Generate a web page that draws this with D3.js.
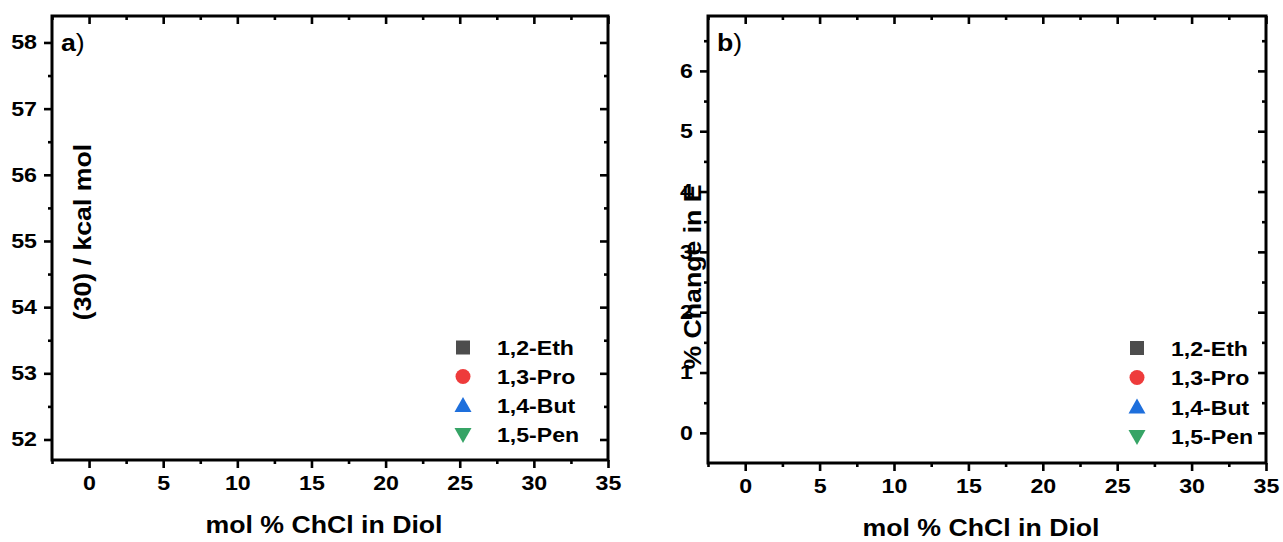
<!DOCTYPE html>
<html>
<head>
<meta charset="utf-8">
<script src="https://cdn.jsdelivr.net/npm/d3@7"></script>
<style>
  html, body { margin: 0; padding: 0; background: #fff; }
  svg { display: block; font-family: "Liberation Sans", Arial, sans-serif; }
  .tick text { font-weight: bold; }
</style>
</head>
<body>
<svg id="chart" width="1283" height="542"></svg>
<script>
// Diol series shown in both panels
const seriesNames = ["1,2-Eth", "1,3-Pro", "1,4-But", "1,5-Pen"];
// Measured points per series (none plotted in this figure)
const seriesA = [[], [], [], []];
const seriesB = [[], [], [], []];

// Axis ticks
const xTicks = [0, 5, 10, 15, 20, 25, 30, 35];
const xMinorTicks = [-2.5, 2.5, 7.5, 12.5, 17.5, 22.5, 27.5, 32.5];
const yTicksA = [52, 53, 54, 55, 56, 57, 58];
const yMinorTicksA = [52.5, 53.5, 54.5, 55.5, 56.5, 57.5];
const yTicksB = [0, 1, 2, 3, 4, 5, 6];
const yMinorTicksB = [0.5, 1.5, 2.5, 3.5, 4.5, 5.5, 6.5];

const xDomain = [-2.5, 35];
const yDomainA = [51.69, 58.4];
const yDomainB = [-0.5, 6.91];

const colors = d3.scaleOrdinal()
  .domain(seriesNames)
  .range(["#4d4d4d", "#ee3b3b", "#1e6fdc", "#36a466"]);
const shapes = d3.scaleOrdinal()
  .domain(seriesNames)
  .range(["square", "circle", "up", "down"]);

// the figure's bold face is set a little wider than Liberation Sans
const STRETCH = 1.16;

const svg = d3.select("#chart");

function markerPath(kind, size) {
  if (kind === "square") return d3.symbol(d3.symbolSquare, size * size)();
  if (kind === "circle") return d3.symbol(d3.symbolCircle, Math.PI * 15 * 15 / 4)();
  const h = 15, w = 17;
  if (kind === "up") return `M0,${-h / 2 - 1}L${w / 2},${h / 2 - 1}L${-w / 2},${h / 2 - 1}Z`;
  return `M0,${h / 2 + 1}L${w / 2},${-h / 2 + 1}L${-w / 2},${-h / 2 + 1}Z`;
}

function styleAxis(g, sw) {
  g.select(".domain").remove();
  g.selectAll(".tick line").attr("stroke", "#000").attr("stroke-width", sw);
}

function panel(opts) {
  const { left, right, top, bottom, yDomain, yTicks, yMinor, data, label,
          yTitle, yTitleX, yTitleY, legendX, legendTextX, legendY0, legendDy,
          xTitleY } = opts;
  const x = d3.scaleLinear().domain(xDomain).range([left, right]);
  const y = d3.scaleLinear().domain(yDomain).range([bottom, top]);
  const g = svg.append("g");

  const fs = 20;
  // bottom axis: outward ticks with labels
  const bx = g.append("g").attr("transform", `translate(0,${bottom})`)
    .call(d3.axisBottom(x).tickValues(xTicks).tickSize(8).tickSizeOuter(0).tickPadding(8));
  styleAxis(bx, 2.6);
  bx.selectAll(".tick text").attr("font-size", fs).attr("fill", "#000")
    .attr("font-family", "Liberation Sans, Arial, sans-serif")
    .attr("transform", `scale(${STRETCH},1)`);
  const bxm = g.append("g").attr("transform", `translate(0,${bottom})`)
    .call(d3.axisBottom(x).tickValues(xMinorTicks).tickSize(4).tickFormat(""));
  styleAxis(bxm, 2.6);

  // top axis: inward ticks, no labels
  const tx = g.append("g").attr("transform", `translate(0,${top})`)
    .call(d3.axisTop(x).tickValues(xTicks).tickSize(-8).tickFormat(""));
  styleAxis(tx, 2.6);
  const txm = g.append("g").attr("transform", `translate(0,${top})`)
    .call(d3.axisTop(x).tickValues(xMinorTicks).tickSize(-4).tickFormat(""));
  styleAxis(txm, 2.6);

  // left axis: outward ticks with labels
  const ly = g.append("g").attr("transform", `translate(${left},0)`)
    .call(d3.axisLeft(y).tickValues(yTicks).tickSize(8).tickPadding(7).tickFormat(d3.format("d")));
  styleAxis(ly, 2.6);
  ly.selectAll(".tick text").attr("font-size", fs).attr("fill", "#000")
    .attr("font-family", "Liberation Sans, Arial, sans-serif")
    .attr("x", 0)
    .attr("transform", `translate(-15,0) scale(${STRETCH},1)`);
  const lym = g.append("g").attr("transform", `translate(${left},0)`)
    .call(d3.axisLeft(y).tickValues(yMinor).tickSize(4).tickFormat(""));
  styleAxis(lym, 2.6);

  // right axis: inward ticks
  const ry = g.append("g").attr("transform", `translate(${right},0)`)
    .call(d3.axisRight(y).tickValues(yTicks).tickSize(-8).tickFormat(""));
  styleAxis(ry, 2.6);
  const rym = g.append("g").attr("transform", `translate(${right},0)`)
    .call(d3.axisRight(y).tickValues(yMinor).tickSize(-4).tickFormat(""));
  styleAxis(rym, 2.6);

  // frame
  g.append("rect")
    .attr("x", left).attr("y", top)
    .attr("width", right - left).attr("height", bottom - top)
    .attr("fill", "none").attr("stroke", "#000").attr("stroke-width", 3);

  // data points
  data.forEach((pts, i) => {
    g.selectAll(null).data(pts).enter().append("path")
      .attr("d", markerPath(shapes(seriesNames[i]), 14))
      .attr("transform", d => `translate(${x(d[0])},${y(d[1])})`)
      .attr("fill", colors(seriesNames[i]));
  });

  // panel label
  const lab = g.append("text")
    .attr("transform", `translate(${left + 9},${top + 35}) scale(${STRETCH},1)`)
    .attr("font-size", 23).attr("fill", "#000");
  lab.append("tspan").attr("font-weight", "bold").text(label);
  lab.append("tspan").text(")");

  // axis titles
  g.append("text")
    .attr("transform", `translate(${(left + right) / 2 - 6},${xTitleY}) scale(${STRETCH},1)`)
    .attr("text-anchor", "middle").attr("font-size", 23).attr("font-weight", "bold")
    .text("mol % ChCl in Diol");
  g.append("text")
    .attr("transform", `translate(${yTitleX},${yTitleY}) rotate(-90) scale(${STRETCH},1)`)
    .attr("text-anchor", "middle").attr("font-size", 23).attr("font-weight", "bold")
    .text(yTitle);

  // legend
  seriesNames.forEach((name, i) => {
    const cy = legendY0 + i * legendDy;
    g.append("path")
      .attr("d", markerPath(shapes(name), 14))
      .attr("transform", `translate(${legendX},${cy})`)
      .attr("fill", colors(name));
    g.append("text")
      .attr("transform", `translate(${legendTextX},${cy + 7.5}) scale(1.1,1)`)
      .attr("font-size", 21).attr("font-weight", "bold")
      .text(name);
  });
}

panel({
  left: 52, right: 608, top: 16, bottom: 460,
  yDomain: yDomainA, yTicks: yTicksA, yMinor: yMinorTicksA, data: seriesA,
  label: "a", yTitle: "(30) / kcal mol", yTitleX: 91, yTitleY: 232,
  legendX: 463, legendTextX: 497, legendY0: 347.5, legendDy: 29,
  xTitleY: 533
});

panel({
  left: 708, right: 1266, top: 16, bottom: 463,
  yDomain: yDomainB, yTicks: yTicksB, yMinor: yMinorTicksB, data: seriesB,
  label: "b", yTitle: "% Change in E", yTitleX: 701, yTitleY: 277,
  legendX: 1137, legendTextX: 1171, legendY0: 348, legendDy: 29.5,
  xTitleY: 536
});
</script>
</body>
</html>
